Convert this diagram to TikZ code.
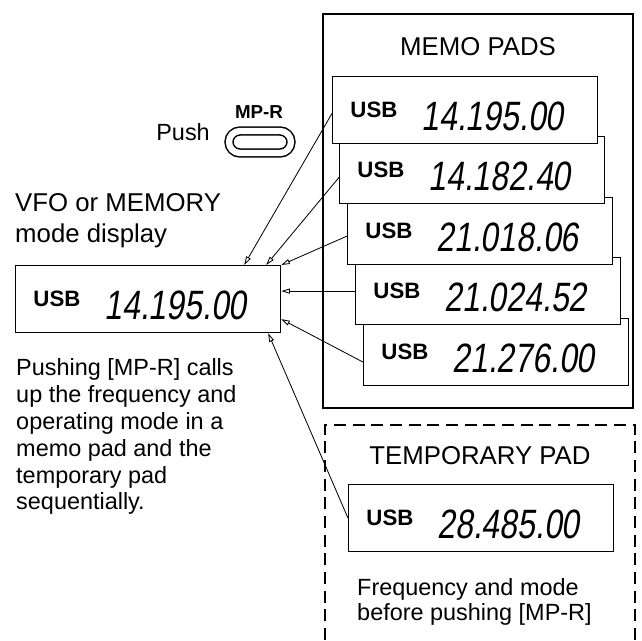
\documentclass[tikz,border=0pt]{standalone}
\usepackage{fontspec}
\setmainfont{Liberation Sans}
\newfontfamily\lcdfont{Liberation Sans}[FakeSlant=0.15,FakeStretch=0.78]
\usetikzlibrary{arrows.meta}
\tikzset{
  pad/.style={draw,line width=1pt,fill=white,minimum width=7.95cm,minimum height=2.01cm,
    inner sep=0pt,text height=1.23cm,text depth=0pt},
  feed/.style={line width=0.7pt,-{Triangle[open,length=2.6mm,width=1.5mm]}},
  txt/.style={inner sep=0pt,align=left,font=\fontsize{20}{23}\selectfont},
  head/.style={inner sep=0pt,font=\fontsize{22}{26.4}\selectfont}
}
\newcommand{\padtext}[1]{\raisebox{11.5pt}{\fontsize{19}{19}\selectfont\bfseries USB}\hspace{0.72cm}{\lcdfont\fontsize{35}{35}\selectfont #1}\hspace*{0.48cm}}

\begin{document}
\begin{tikzpicture}[x=0.03cm,y=-0.03cm]
  \useasboundingbox (0,0) rectangle (642,640);

  % ================= memo pads =================
  \draw[line width=1pt] (323,14) rectangle (633,408);
  \node[head,anchor=base] (memotitle) at (478,55) {MEMO PADS};
  \node[pad,anchor=north west] (pad5) at (363,318) {\padtext{21.276.00}};
  \node[pad,anchor=north west] (pad4) at (355,257) {\padtext{21.024.52}};
  \node[pad,anchor=north west] (pad3) at (347,197) {\padtext{21.018.06}};
  \node[pad,anchor=north west] (pad2) at (339,136) {\padtext{14.182.40}};
  \node[pad,anchor=north west] (pad1) at (332,76) {\padtext{14.195.00}};

  % ================= temporary pad =================
  \draw[line width=1pt,dash pattern=on 0.36cm off 0.2cm]
    (325,640) -- (325,425) -- (635,425) -- (635,640);
  \node[head,anchor=base] (temptitle) at (480,464) {TEMPORARY PAD};
  \node[pad,anchor=north west] (temp) at (348,484) {\padtext{28.485.00}};
  \node[txt,anchor=north west,font=\fontsize{20}{21.5}\selectfont] (tempnote) at (357,578)
    {Frequency and mode\\before pushing [MP-R]};

  % ================= display and key =================
  \node[head,anchor=north west,align=left] (vfotitle) at (15,193) {VFO or MEMORY\\mode display};
  \node[pad,anchor=north west] (vfo) at (15,265) {\padtext{14.195.00}};
  \node[txt,anchor=north west] (note) at (16,358)
    {Pushing [MP-R] calls\\up the frequency and\\operating mode in a\\memo pad and the\\temporary pad\\sequentially.};
  \node[draw,line width=0.045cm,double,double distance=0.19cm,rounded corners=0.33cm,
    minimum width=1.86cm,minimum height=0.66cm,inner sep=0pt] (mpr) at (260,142) {};
  \node[anchor=base,inner sep=0pt,font=\fontsize{16}{16}\selectfont\bfseries] (mprlabel) at (259,118) {MP-R};
  \node[anchor=base east,inner sep=0pt,font=\fontsize{20}{20}\selectfont] (push) at (210,140) {Push};

  % ================= recall paths =================
  \draw[feed] ([yshift=-0.1cm]pad1.west) -- ([xshift=-1.11cm]vfo.north east);
  \draw[feed] ([yshift=-0.22cm]pad2.west) -- ([xshift=-0.45cm]vfo.north east);
  \draw[feed] ([yshift=-0.15cm]pad3.west) -- (vfo.north east);
  \draw[feed] (pad4.west) -- (pad4.west -| vfo.east);
  \draw[feed] ([yshift=-0.3cm]pad5.west) -- ([yshift=-0.6cm]vfo.east);
  \draw[feed] (temp.west) -- ([xshift=-0.39cm]vfo.south east);
\end{tikzpicture}
\end{document}
